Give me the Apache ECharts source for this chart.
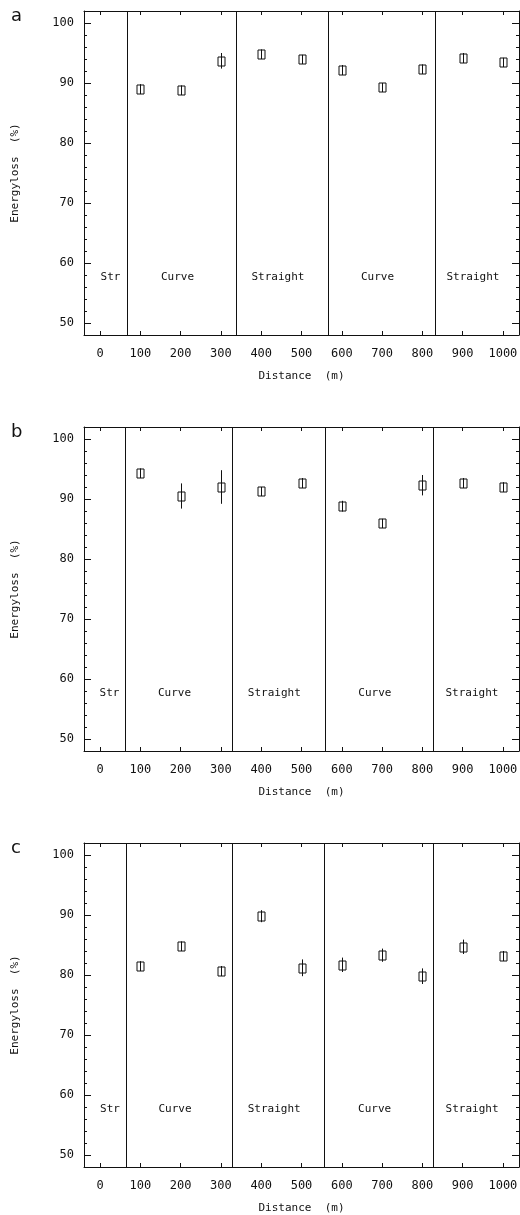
<!DOCTYPE html>
<html>
<head>
<meta charset="utf-8">
<script src="https://cdn.jsdelivr.net/npm/echarts@6/dist/echarts.min.js"></script>
<style>
  html, body { margin: 0; padding: 0; background: #fff; }
  #main { width: 520px; height: 1215px; }
</style>
</head>
<body>
<div id="main"></div>
<script>
// distances of the measuring points (m)
const distance = [100, 200, 300, 400, 500, 600, 700, 800, 900, 1000];

// energy loss (%) and half error bar for each panel
const lossA = [89.0, 88.8, 93.7, 94.8, 94.0, 92.2, 89.3, 92.3, 94.2, 93.5];
const errA = [0.8, 0.8, 1.3, 0.8, 0.7, 0.8, 0.7, 0.8, 0.8, 0.7];
const lossB = [94.3, 90.5, 92.0, 91.3, 92.7, 88.8, 86.0, 92.3, 92.7, 92.0];
const errB = [0.8, 2.1, 2.8, 0.7, 0.8, 0.9, 0.7, 1.7, 0.8, 0.8];
const lossC = [81.5, 84.8, 80.7, 89.8, 81.2, 81.7, 83.3, 79.8, 84.7, 83.2];
const errC = [0.8, 0.8, 0.8, 1.0, 1.4, 1.2, 1.1, 1.3, 1.2, 0.8];

// borders between track sections (m)
const bordersA = [67, 337, 566, 831];
const bordersB = [62, 327, 558, 826];
const bordersC = [64, 328, 556, 827];
const sectionNames = ["Str", "Curve", "Straight", "Curve", "Straight"];
const panelLetters = ["a", "b", "c"];

// ticks
const xTicks = [0, 100, 200, 300, 400, 500, 600, 700, 800, 900, 1000];
const yTicks = [50, 60, 70, 80, 90, 100];
const yMinorTicks = [48, 50, 52, 54, 56, 58, 60, 62, 64, 66, 68, 70, 72, 74, 76,
  78, 80, 82, 84, 86, 88, 90, 92, 94, 96, 98, 100, 102];

const X_MIN = -40, X_MAX = 1040, Y_MIN = 48, Y_MAX = 102;
const sectionY = 57.6;

const panels = [
  { loss: lossA, err: errA, borders: bordersA, top: 11 },
  { loss: lossB, err: errB, borders: bordersB, top: 427 },
  { loss: lossC, err: errC, borders: bordersC, top: 843 },
];

const ink = "#111";
const mono = "'DejaVu Sans Mono', monospace";

const chart = echarts.init(document.getElementById("main"));

const grid = [], xAxis = [], yAxis = [], series = [], graphic = [];

function crisp(v) {
  return Math.round(v) + 0.5;
}

function renderPoint(params, api) {
  const x = api.value(0), y = api.value(1), e = api.value(2);
  const c = api.coord([x, y]);
  const hi = api.coord([x, y + e]);
  const lo = api.coord([x, y - e]);
  const cx = crisp(c[0]);
  const cy = Math.round(c[1]);
  return {
    type: "group",
    children: [
      {
        type: "line",
        shape: { x1: cx, y1: hi[1], x2: cx, y2: lo[1] },
        style: { stroke: ink, lineWidth: 1 },
      },
      {
        type: "rect",
        shape: { x: cx - 3.5, y: cy - 4, width: 7, height: 9 },
        style: { fill: "#fff", stroke: ink, lineWidth: 1 },
      },
      {
        type: "line",
        shape: { x1: cx, y1: cy - 4, x2: cx, y2: cy + 5 },
        style: { stroke: ink, lineWidth: 1 },
      },
    ],
  };
}

function renderBorder(params, api) {
  const x = api.value(0);
  const a = api.coord([x, Y_MAX]);
  const b = api.coord([x, Y_MIN]);
  const cx = crisp(a[0]);
  return {
    type: "line",
    shape: { x1: cx, y1: a[1], x2: cx, y2: b[1] },
    style: { stroke: ink, lineWidth: 1 },
  };
}

function renderSection(params, api) {
  const c = api.coord([api.value(0), sectionY]);
  // first label sits a little right of centre, the others a little left
  const shift = params.dataIndex === 0 ? 5 : -4;
  return {
    type: "text",
    x: c[0] + shift,
    y: c[1],
    style: {
      text: sectionNames[params.dataIndex],
      font: "11px " + mono,
      fill: ink,
      align: "center",
      verticalAlign: "middle",
    },
  };
}

panels.forEach((p, i) => {
  grid.push({
    left: 84,
    width: 435,
    top: p.top,
    height: 324,
    outerBoundsMode: "none",
  });

  const tickStyle = { lineStyle: { color: ink, width: 1 } };
  const frame = { show: true, onZero: false, lineStyle: { color: ink, width: 1 } };

  // bottom x axis with labels
  xAxis.push({
    type: "value",
    gridIndex: i,
    position: "bottom",
    min: X_MIN,
    max: X_MAX,
    name: "Distance  (m)",
    nameLocation: "middle",
    nameGap: 36,
    nameTextStyle: { color: ink, fontFamily: mono, fontSize: 11 },
    axisLine: frame,
    axisTick: { show: true, inside: true, length: 4, customValues: xTicks, ...tickStyle },
    axisLabel: {
      customValues: xTicks,
      formatter: (v) => String(v),
      color: ink,
      fontFamily: mono,
      fontSize: 12,
      margin: 13,
    },
    splitLine: { show: false },
  });
  // top x axis, ticks only
  xAxis.push({
    type: "value",
    gridIndex: i,
    position: "top",
    min: X_MIN,
    max: X_MAX,
    axisLine: frame,
    axisTick: { show: true, inside: true, length: 4, customValues: xTicks, ...tickStyle },
    axisLabel: { show: false },
    splitLine: { show: false },
  });

  // left y axis with labels and major ticks
  yAxis.push({
    type: "value",
    gridIndex: i,
    position: "left",
    min: Y_MIN,
    max: Y_MAX,
    name: "Energyloss  (%)",
    nameLocation: "middle",
    nameGap: 63,
    nameTextStyle: { color: ink, fontFamily: mono, fontSize: 11 },
    axisLine: frame,
    axisTick: { show: true, inside: true, length: 7, customValues: yTicks, ...tickStyle },
    axisLabel: { customValues: yTicks, color: ink, fontFamily: mono, fontSize: 12, margin: 10 },
    splitLine: { show: false },
  });
  // left minor ticks
  yAxis.push({
    type: "value",
    gridIndex: i,
    position: "left",
    min: Y_MIN,
    max: Y_MAX,
    axisLine: { show: false, onZero: false },
    axisTick: { show: true, inside: true, length: 3, customValues: yMinorTicks, ...tickStyle },
    axisLabel: { show: false },
    splitLine: { show: false },
  });
  // right y axis, major ticks
  yAxis.push({
    type: "value",
    gridIndex: i,
    position: "right",
    min: Y_MIN,
    max: Y_MAX,
    axisLine: frame,
    axisTick: { show: true, inside: true, length: 7, customValues: yTicks, ...tickStyle },
    axisLabel: { show: false },
    splitLine: { show: false },
  });
  // right minor ticks
  yAxis.push({
    type: "value",
    gridIndex: i,
    position: "right",
    min: Y_MIN,
    max: Y_MAX,
    axisLine: { show: false, onZero: false },
    axisTick: { show: true, inside: true, length: 3, customValues: yMinorTicks, ...tickStyle },
    axisLabel: { show: false },
    splitLine: { show: false },
  });

  // section borders
  series.push({
    type: "custom",
    xAxisIndex: 2 * i,
    yAxisIndex: 4 * i,
    renderItem: renderBorder,
    data: p.borders.map((b) => [b]),
    silent: true,
  });

  // section names, centred in each section
  const edges = [X_MIN, ...p.borders, X_MAX];
  series.push({
    type: "custom",
    xAxisIndex: 2 * i,
    yAxisIndex: 4 * i,
    renderItem: renderSection,
    data: sectionNames.map((n, k) => [(edges[k] + edges[k + 1]) / 2]),
    silent: true,
  });

  // measured points with error bars
  series.push({
    type: "custom",
    xAxisIndex: 2 * i,
    yAxisIndex: 4 * i,
    renderItem: renderPoint,
    data: distance.map((d, k) => [d, p.loss[k], p.err[k]]),
    z: 5,
  });

  graphic.push({
    type: "text",
    left: 11,
    top: p.top - 4,
    style: {
      text: panelLetters[i],
      font: "18px 'DejaVu Sans', sans-serif",
      fill: ink,
    },
  });
});

chart.setOption({
  animation: false,
  backgroundColor: "#fff",
  grid,
  xAxis,
  yAxis,
  series,
  graphic,
});
</script>
</body>
</html>
